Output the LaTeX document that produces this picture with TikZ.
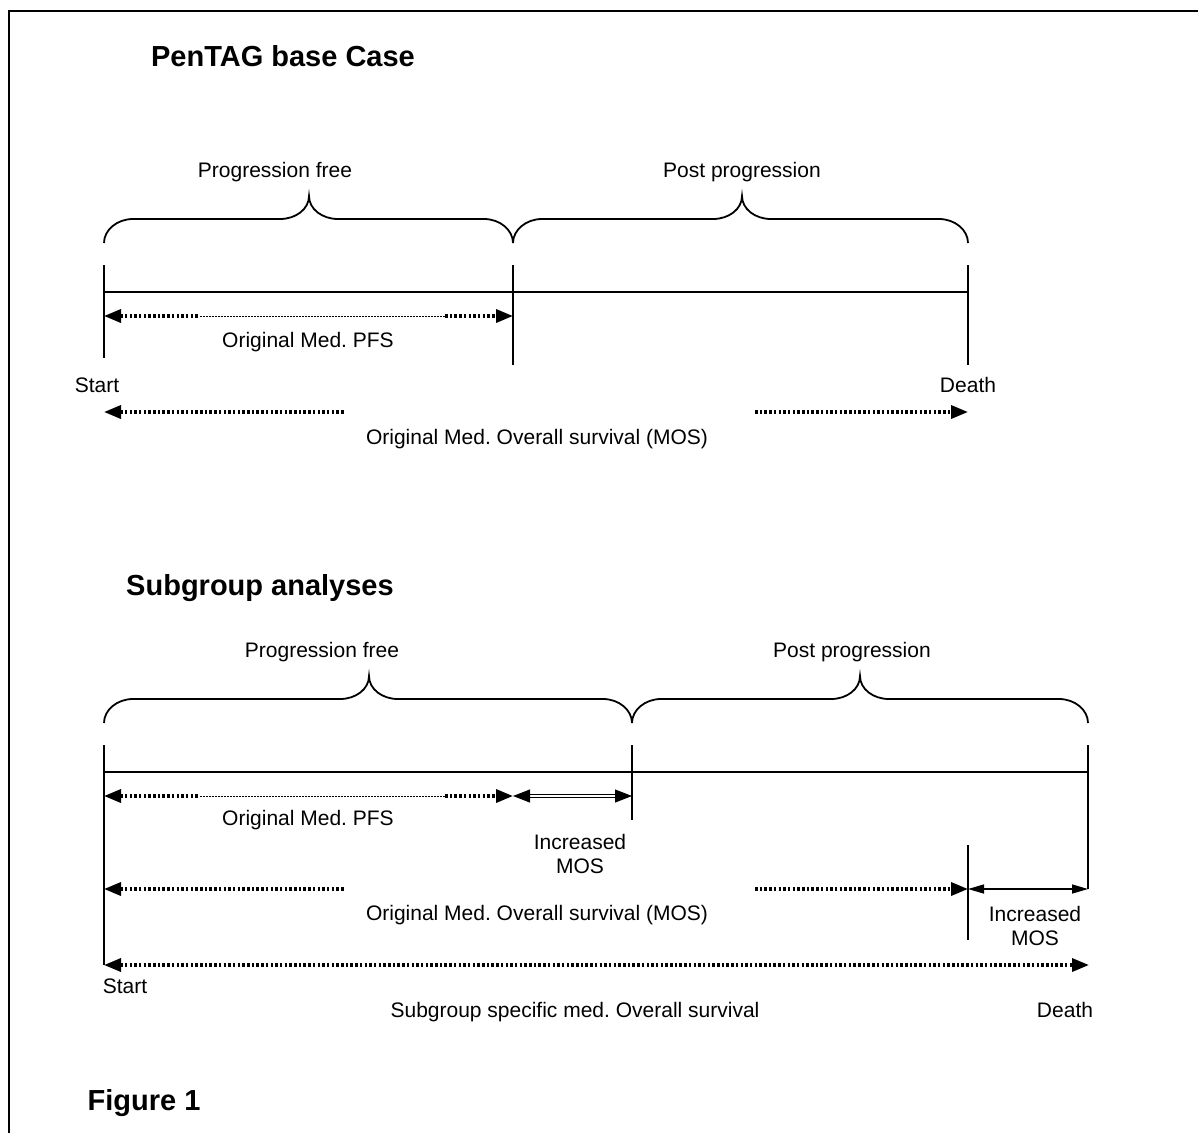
\documentclass[tikz,border=0pt]{standalone}
\usepackage{fontspec}
\setmainfont{Liberation Sans}
\usetikzlibrary{arrows.meta}
\frenchspacing

\tikzset{
  frame/.style={line width=2.2pt},
  rule/.style={line width=1.8pt},
  bracepath/.style={line width=1.8pt},
  thickdot/.style={line width=3.4pt, dash pattern=on 2.5pt off 2.2pt},
  thindot/.style={line width=0.9pt, dash pattern=on 1.5pt off 1.5pt},
  tipL/.style={{Triangle[length=17pt,width=13pt]}-},
  tipR/.style={-{Triangle[length=17pt,width=13pt]}},
  tipLR/.style={{Triangle[length=17pt,width=13pt]}-{Triangle[length=17pt,width=13pt]}},
  slimLR/.style={line width=1.5pt,{Triangle[length=16pt,width=9pt]}-{Triangle[length=16pt,width=9pt]}},
  dblLR/.style={double, double distance=2.4pt, line width=0.9pt,
    {Triangle[length=17pt,width=13pt]}-{Triangle[length=17pt,width=13pt]}},
  lbl/.style={anchor=base, inner sep=0pt, font=\fontsize{21}{24}\selectfont},
  ttl/.style={anchor=base, inner sep=0pt, font=\fontsize{29}{32}\selectfont\bfseries},
}

% curly brace: left end x, tip x, right end x, bottom y (y grows downward)
\newcommand\wordbrace[4]{%
  \draw[bracepath] (#1,#4) .. controls (#1,#4-13) and (#1+13,#4-24) .. (#1+29,#4-24)
    -- (#2-29,#4-24) .. controls (#2-13,#4-24) and (#2,#4-34) .. (#2,#4-47)
    .. controls (#2,#4-34) and (#2+13,#4-24) .. (#2+29,#4-24)
    -- (#3-29,#4-24) .. controls (#3-13,#4-24) and (#3,#4-13) .. (#3,#4);}

\begin{document}
\begin{tikzpicture}[x=1pt,y=-1pt]
  \useasboundingbox (0,0) rectangle (1198,1133);

  % open frame (top and left edges)
  \coordinate (fTR) at (1198,11);
  \coordinate (fTL) at (9,11);
  \coordinate (fBL) at (9,1133);
  \draw[frame] (fTR) -- (fTL) -- (fBL);

  % ---------------- base case ----------------
  \node[ttl] (t1) at (283,66) {PenTAG base Case};
  \node[lbl] (pf1) at (275,177) {Progression free};
  \node[lbl] (pp1) at (742,177) {Post progression};
  \wordbrace{104}{309}{513}{243}
  \wordbrace{513}{742}{968}{243}

  \coordinate (a0) at (104,265);  \coordinate (a1) at (104,358);
  \coordinate (b0) at (513,265);  \coordinate (b1) at (513,365);
  \coordinate (c0) at (968,265);  \coordinate (c1) at (968,365);
  \coordinate (h0) at (104,292);  \coordinate (h1) at (968,292);
  \draw[rule] (a0) -- (a1);
  \draw[rule] (b0) -- (b1);
  \draw[rule] (c0) -- (c1);
  \draw[rule] (h0) -- (h1);

  \coordinate (p0) at (104,316); \coordinate (p1) at (200,316);
  \coordinate (p2) at (445,316); \coordinate (p3) at (513,316);
  \draw[thickdot,tipL] (p0) -- (p1);
  \draw[thindot] (p1) -- (p2);
  \draw[thickdot,tipR] (p2) -- (p3);
  \node[lbl] (pfs1) at (308,347) {Original Med. PFS};

  \node[lbl] (st1) at (97,392) {Start};
  \node[lbl] (de1) at (968,392) {Death};

  \coordinate (m0) at (104,412); \coordinate (m1) at (345,412);
  \coordinate (m2) at (755,412); \coordinate (m3) at (968,412);
  \draw[thickdot,tipL] (m0) -- (m1);
  \draw[thickdot,tipR] (m2) -- (m3);
  \node[lbl] (mos1) at (537,444) {Original Med. Overall survival (MOS)};

  % ---------------- subgroups ----------------
  \node[ttl] (t2) at (260,595) {Subgroup analyses};
  \node[lbl] (pf2) at (322,657) {Progression free};
  \node[lbl] (pp2) at (852,657) {Post progression};
  \wordbrace{104}{369}{632}{723}
  \wordbrace{632}{860}{1088}{723}

  \coordinate (d0) at (104,745);  \coordinate (d1) at (104,965);
  \coordinate (e0) at (632,745);  \coordinate (e1) at (632,820);
  \coordinate (f0) at (1088,745); \coordinate (f1) at (1088,889);
  \coordinate (g0) at (968,845);  \coordinate (g1) at (968,940);
  \coordinate (k0) at (104,772);  \coordinate (k1) at (1088,772);
  \draw[rule] (d0) -- (d1);
  \draw[rule] (e0) -- (e1);
  \draw[rule] (f0) -- (f1);
  \draw[rule] (g0) -- (g1);
  \draw[rule] (k0) -- (k1);

  \coordinate (q0) at (104,796); \coordinate (q1) at (200,796);
  \coordinate (q2) at (445,796); \coordinate (q3) at (513,796);
  \coordinate (q4) at (632,796);
  \draw[thickdot,tipL] (q0) -- (q1);
  \draw[thindot] (q1) -- (q2);
  \draw[thickdot,tipR] (q2) -- (q3);
  \draw[dblLR] (q3) -- (q4);
  \node[lbl] (pfs2) at (308,825) {Original Med. PFS};
  \node[lbl,align=center] (inc1) at (580,873) {Increased\\MOS};

  \coordinate (r0) at (104,889); \coordinate (r1) at (345,889);
  \coordinate (r2) at (755,889); \coordinate (r3) at (968,889);
  \draw[thickdot,tipL] (r0) -- (r1);
  \draw[thickdot,tipR] (r2) -- (r3);
  \draw[slimLR] (r3) -- (f1);
  \node[lbl] (mos2) at (537,920) {Original Med. Overall survival (MOS)};
  \node[lbl,align=center] (inc2) at (1035,945) {Increased\\MOS};

  \coordinate (s0) at (104,965); \coordinate (s1) at (1089,965);
  \draw[thickdot,tipLR] (s0) -- (s1);
  \node[lbl] (st2) at (125,993) {Start};
  \node[lbl] (sg) at (575,1017) {Subgroup specific med. Overall survival};
  \node[lbl] (de2) at (1065,1017) {Death};

  \node[ttl] (fig) at (144,1110) {Figure 1};
\end{tikzpicture}
\end{document}
